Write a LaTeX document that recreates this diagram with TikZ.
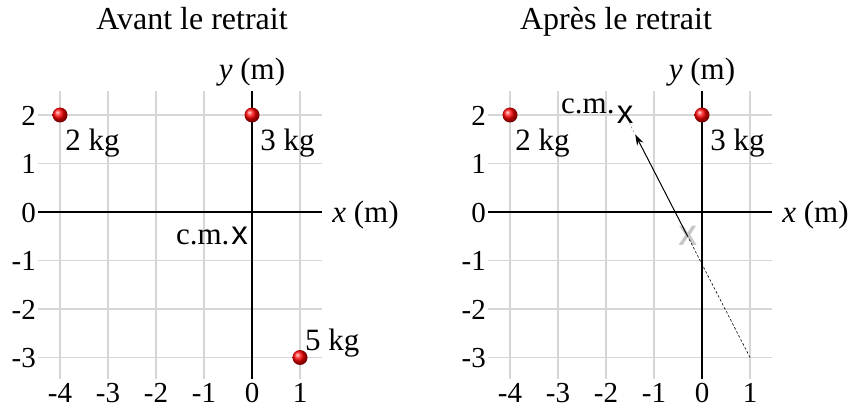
\documentclass[tikz,border=0pt]{standalone}
\usepackage{fontspec}
\setmainfont{Liberation Serif}
\newfontfamily\sansx{Liberation Sans}
\usetikzlibrary{arrows.meta,calc}
\begin{document}
\begin{tikzpicture}[x=1pt,y=-1pt]
\useasboundingbox (0,0) rectangle (850,409);
\tikzset{
  gridline/.style={draw=black!16, line width=1.3pt},
  axisline/.style={draw=black, line width=2.4pt},
  tick/.style={font=\fontsize{29}{32}\selectfont, inner sep=0pt},
  lbl/.style={font=\fontsize{31}{36}\selectfont, inner sep=0pt},
  ttl/.style={font=\fontsize{32}{36}\selectfont, inner sep=0pt},
  mass/.style={circle, minimum size=15pt, inner sep=0pt, shading=ball, ball color=red},
  cmx/.style={font=\fontsize{33}{36}\sansx, inner sep=0pt},
  oldx/.style={font=\fontsize{28}{32}\sansx\bfseries, text=black!22, inner sep=0pt},
}
\newcommand\axesgrid{%
  \foreach \i in {-4,...,1} \draw[gridline] (\i,-3.45) -- (\i,2.5);
  \foreach \j in {-3,...,2} \draw[gridline] (-4.45,\j) -- (1.45,\j);
  \draw[axisline] (-4.45,0) -- (1.45,0);
  \draw[axisline] (0,-3.45) -- (0,2.5);
  \foreach \j in {-3,...,2} \node[tick, anchor=base east, yshift=-10pt] at (-4.5,\j) {\j};
  \foreach \i in {-4,...,1} \node[tick, anchor=base] at (\i,-3.92) {\i};
  \node[lbl, anchor=base] at (0,2.74) {\textit{y} (m)};
  \node[lbl, anchor=base west, yshift=-10pt] at (1.67,0) {\textit{x} (m)};
}
% ---------- left ----------
\node[ttl, anchor=base] (t1) at (192,30) {Avant le retrait};
\begin{scope}[shift={(252pt,-212pt)}, x=48pt, y=48.5pt]
  \axesgrid
  \node[mass] (a2) at (-4,2) {};
  \node[mass] (a3) at (0,2) {};
  \node[mass] (a5) at (1,-3) {};
  \node[lbl, anchor=base west] (la2) at (-3.89,1.27) {2 kg};
  \node[lbl, anchor=base west] (la3) at (0.17,1.27) {3 kg};
  \node[lbl, anchor=base west] (la5) at (1.1,-2.86) {5 kg};
  \node[cmx, xshift=2pt] (cma) at (-0.3,-0.5) {x};
  \node[lbl, anchor=base east] (cmla) at ([xshift=-1.5pt]cma.base west) {c.m.};
\end{scope}
% ---------- right ----------
\node[ttl, anchor=base] (t2) at (616,30) {Après le retrait};
\begin{scope}[shift={(702pt,-212pt)}, x=48pt, y=48.5pt]
  \axesgrid
  \node[mass] (b2) at (-4,2) {};
  \node[mass] (b3) at (0,2) {};
  \node[lbl, anchor=base west] (lb2) at (-3.89,1.27) {2 kg};
  \node[lbl, anchor=base west] (lb3) at (0.17,1.27) {3 kg};
  \coordinate (m5) at (1,-3);
  \node[oldx] (cmold) at (-0.3,-0.5) {X};
  \node[cmx] (cmb) at (-1.6,2) {x};
  \node[lbl, anchor=base east] (cmlb) at ([xshift=-2pt,yshift=10pt]cmb.base west) {c.m.};
  \draw[line width=0.6pt, dash pattern=on 2.5pt off 2pt] (m5) -- (cmold.center);
  \draw[line width=1pt, -{Stealth[length=11pt,width=7pt]}] (cmold.center) -- ($(cmold.center)!0.84!(cmb.center)$);
  \draw[line width=0.5pt, black!50, dash pattern=on 2pt off 2pt] ($(cmold.center)!0.86!(cmb.center)$) -- ($(cmold.center)!0.93!(cmb.center)$);
\end{scope}
\end{tikzpicture}
\end{document}
